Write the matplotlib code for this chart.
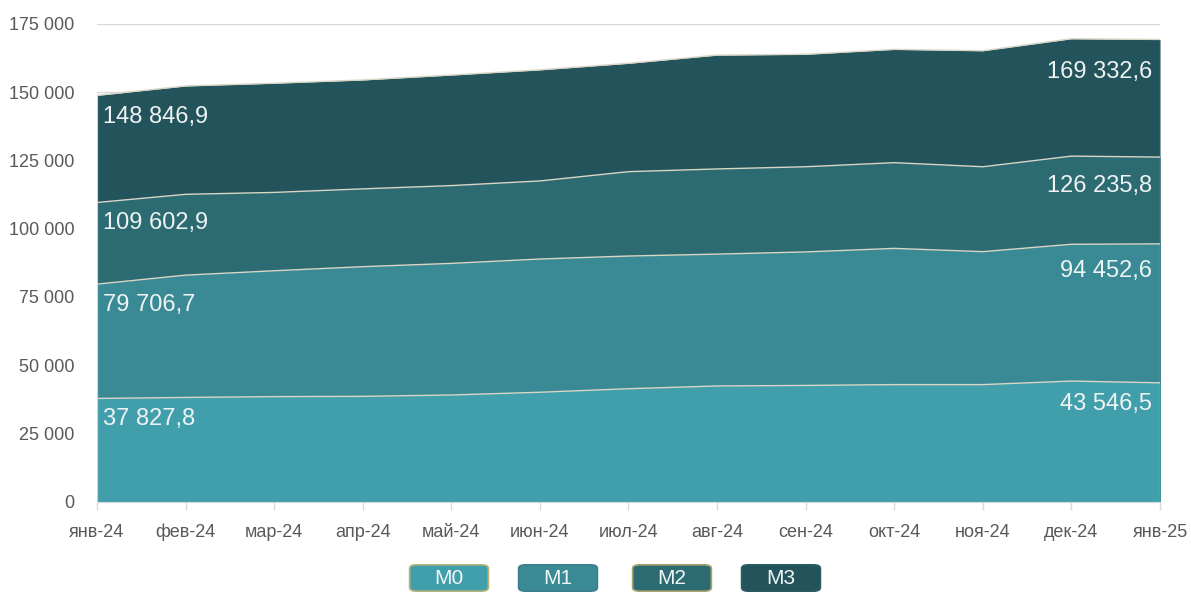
import matplotlib
matplotlib.use("Agg")
import matplotlib.pyplot as plt
from matplotlib.patches import FancyBboxPatch
from matplotlib.ticker import FuncFormatter, FixedLocator

plt.rcParams['font.family'] = ['Liberation Sans Narrow', 'Liberation Sans', 'DejaVu Sans']

months = ["янв-24", "фев-24", "мар-24", "апр-24", "май-24", "июн-24", "июл-24",
          "авг-24", "сен-24", "окт-24", "ноя-24", "дек-24", "янв-25"]
m0 = [37827.8, 38200, 38500, 38600, 39100, 40100, 41400, 42400, 42600, 42900, 42900, 44200, 43546.5]
m1 = [79706.7, 83000, 84600, 86100, 87300, 88900, 90000, 90700, 91500, 92800, 91600, 94300, 94452.6]
m2 = [109602.9, 112600, 113300, 114600, 115800, 117500, 120900, 121900, 122700, 124200, 122700, 126600, 126235.8]
m3 = [148846.9, 152300, 153300, 154500, 156300, 158200, 160600, 163600, 163900, 165700, 165200, 169600, 169332.6]
series_names = ["M0", "M1", "M2", "M3"]
series_vals = [m0, m1, m2, m3]
colors = ["#419fac", "#3a8a95", "#2d6b73", "#23535b"]
yticks = [0, 25000, 50000, 75000, 100000, 125000, 150000, 175000]

fig = plt.figure(figsize=(11.91, 5.92), dpi=100)
ax = fig.add_axes([0.0814, 0.1525, 0.8926, 0.807])
x = list(range(len(months)))

for vals, col, z in zip(reversed(series_vals), reversed(colors), [2, 3, 4, 5]):
    ax.fill_between(x, 0, vals, color=col, zorder=z, linewidth=0)
    ax.plot(x, vals, color="#d9d6c6", lw=1.0, zorder=z + 0.5)
    ax.plot([x[0], x[0]], [0, vals[0]], color="#d9d6c6", lw=0.8, zorder=z + 0.5)
    ax.plot([x[-1], x[-1]], [0, vals[-1]], color="#d9d6c6", lw=0.8, zorder=z + 0.5)

ax.set_xlim(0, len(months) - 1)
ax.set_ylim(0, 175000)
ax.yaxis.set_major_locator(FixedLocator(yticks))
ax.yaxis.set_major_formatter(FuncFormatter(lambda v, p: f"{int(v):,}".replace(",", " ")))
ax.set_xticks(x)
ax.set_xticklabels(months)
ax.grid(axis="y", color="#d9d9d9", lw=1, zorder=0)
ax.set_axisbelow(True)
for s in ["top", "right", "left"]:
    ax.spines[s].set_visible(False)
ax.spines["bottom"].set_color("#d9d9d9")
ax.spines["bottom"].set_zorder(10)
ax.tick_params(axis="y", length=0, pad=16, labelsize=13, labelcolor="#595959")
ax.tick_params(axis="x", length=6, width=1, color="#d9d9d9", pad=10, labelsize=13, labelcolor="#595959")

def fmt(v):
    s = f"{v:,.1f}".replace(",", " ").replace(".", ",")
    return s

label_offsets_left = [-21, -21, -20, -22]
label_offsets_right = [-21, -27, -29, -33]
for vals, dl, dr in zip(series_vals, label_offsets_left, label_offsets_right):
    ax.annotate(fmt(vals[0]), (x[0], vals[0]), xytext=(6, dl), textcoords="offset pixels",
                ha="left", va="center", fontsize=17, color="#eef3f3", zorder=20)
    ax.annotate(fmt(vals[-1]), (x[-1], vals[-1]), xytext=(-8, dr), textcoords="offset pixels",
                ha="right", va="center", fontsize=17, color="#eef3f3", zorder=20)

# legend
W, H = 1191, 592
centers = [449, 558, 672, 781]
edge_cols = ["#b7b27a", "#3a7f8a", "#a9a46e", "#2a5a62"]
for name, col, cx, ec in zip(series_names, colors, centers, edge_cols):
    bw, bh = 74, 24
    box = FancyBboxPatch(((cx - bw / 2) / W, (H - 590) / H), bw / W, bh / H,
                         boxstyle="round,pad=0.002,rounding_size=0.006",
                         transform=fig.transFigure, facecolor=col, edgecolor=ec, lw=1.2)
    fig.patches.append(box)
    fig.text(cx / W, (H - 578) / H, name, ha="center", va="center", fontsize=15, color="#f2f6f6")

fig.savefig("out.png", dpi=100)
